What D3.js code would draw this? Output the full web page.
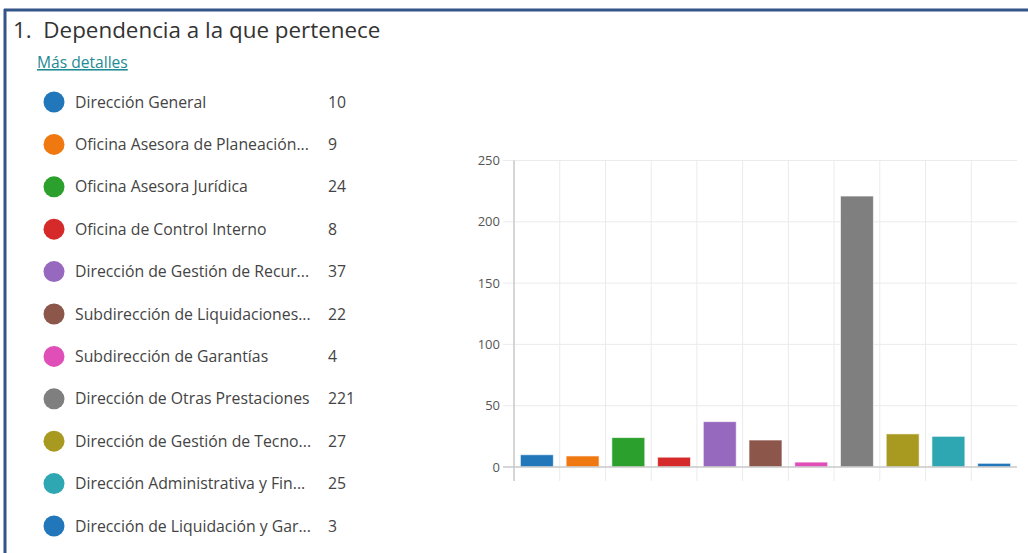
<!DOCTYPE html>
<html>
<head>
<meta charset="utf-8">
<script src="https://cdn.jsdelivr.net/npm/d3@7"></script>
<style>
  html, body { margin: 0; padding: 0; background: #fff; }
  svg { display: block; }
</style>
</head>
<body>
<svg id="chart" width="1028" height="553"></svg>
<script>
const title = "1.  Dependencia a la que pertenece";
const linkText = "Más detalles";
const categories = [
  "Dirección General",
  "Oficina Asesora de Planeación...",
  "Oficina Asesora Jurídica",
  "Oficina de Control Interno",
  "Dirección de Gestión de Recur...",
  "Subdirección de Liquidaciones...",
  "Subdirección de Garantías",
  "Dirección de Otras Prestaciones",
  "Dirección de Gestión de Tecno...",
  "Dirección Administrativa y Fin...",
  "Dirección de Liquidación y Gar..."
];
const values = [10, 9, 24, 8, 37, 22, 4, 221, 27, 25, 3];
const colors = ["#2277bb", "#f07810", "#2ca02c", "#d62a2a", "#9669bf", "#8c564b", "#e04fb8", "#7f7f7f", "#a89a20", "#2ea7b2", "#2277bb"];
const yTicks = [0, 50, 100, 150, 200, 250];

const svg = d3.select("#chart");
const font = "'Open Sans', 'Noto Sans', sans-serif";

// frame
svg.append("line").attr("x1", 5).attr("x2", 5).attr("y1", 9).attr("y2", 553)
  .attr("stroke", "#34558a").attr("stroke-width", 3);
svg.append("line").attr("x1", 4).attr("x2", 1028).attr("y1", 10).attr("y2", 10)
  .attr("stroke", "#34558a").attr("stroke-width", 3);

// title
svg.append("text").attr("x", 13).attr("y", 38)
  .attr("font-family", font).attr("font-size", 22.4).attr("fill", "#333")
  .attr("xml:space", "preserve")
  .text(title);
svg.append("text").attr("x", 37).attr("y", 68)
  .attr("font-family", font).attr("font-size", 15.6).attr("fill", "#1d8a94")
  .attr("text-decoration", "underline")
  .text(linkText);

// legend
const ly = d3.scaleLinear().domain([0, categories.length - 1]).range([102, 526]);
const leg = svg.append("g").selectAll("g").data(categories).join("g")
  .attr("transform", (d, i) => `translate(0,${ly(i)})`);
leg.append("circle").attr("cx", 54).attr("cy", 0).attr("r", 10.5)
  .attr("fill", (d, i) => colors[i]);
leg.append("text").attr("x", 75).attr("y", 0).attr("dy", "0.35em")
  .attr("font-family", font).attr("font-size", 15.8).attr("fill", "#444")
  .text(d => d);
leg.append("text").attr("x", 328).attr("y", 0).attr("dy", "0.35em")
  .attr("font-family", font).attr("font-size", 15.8).attr("fill", "#444")
  .text((d, i) => values[i]);

// bar chart
const x = d3.scaleBand().domain(categories).range([514, 1017]).paddingInner(0.28).paddingOuter(0.14);
const xg = d3.scaleBand().domain(categories).range([514, 1017]);
const y = d3.scaleLinear().domain([0, 250]).range([467, 160.5]);

const grid = svg.append("g");
// vertical grid lines
grid.selectAll("line.v").data(categories.slice(1)).join("line")
  .attr("class", "v")
  .attr("x1", d => xg(d)).attr("x2", d => xg(d))
  .attr("y1", y(250)).attr("y2", 481)
  .attr("stroke", "#ebebeb").attr("stroke-width", 1);
// horizontal grid lines
grid.selectAll("line.h").data(yTicks.filter(t => t > 0)).join("line")
  .attr("class", "h")
  .attr("x1", 503).attr("x2", 1017)
  .attr("y1", d => y(d)).attr("y2", d => y(d))
  .attr("stroke", "#ebebeb").attr("stroke-width", 1);

// y axis
const yAxis = svg.append("g").attr("transform", "translate(514,0)")
  .call(d3.axisLeft(y).tickValues(yTicks).tickSize(0).tickPadding(14));
yAxis.select(".domain").remove();
yAxis.selectAll("text").attr("font-family", font).attr("font-size", 13).attr("fill", "#555");
svg.append("line").attr("x1", 514).attr("x2", 514).attr("y1", y(250)).attr("y2", 481)
  .attr("stroke", "#c8c8c8").attr("stroke-width", 1.5);

// bars
svg.append("g").selectAll("rect").data(values).join("rect")
  .attr("x", (d, i) => x(categories[i]))
  .attr("width", x.bandwidth())
  .attr("y", d => y(d))
  .attr("height", d => y(0) - y(d))
  .attr("fill", (d, i) => colors[i])
  .attr("stroke", "#ffffff").attr("stroke-opacity", 0.6).attr("stroke-width", 1);

// baseline
svg.append("line").attr("x1", 503).attr("x2", 1017).attr("y1", y(0)).attr("y2", y(0))
  .attr("stroke", "#c8c8c8").attr("stroke-width", 1.5);
</script>
</body>
</html>
